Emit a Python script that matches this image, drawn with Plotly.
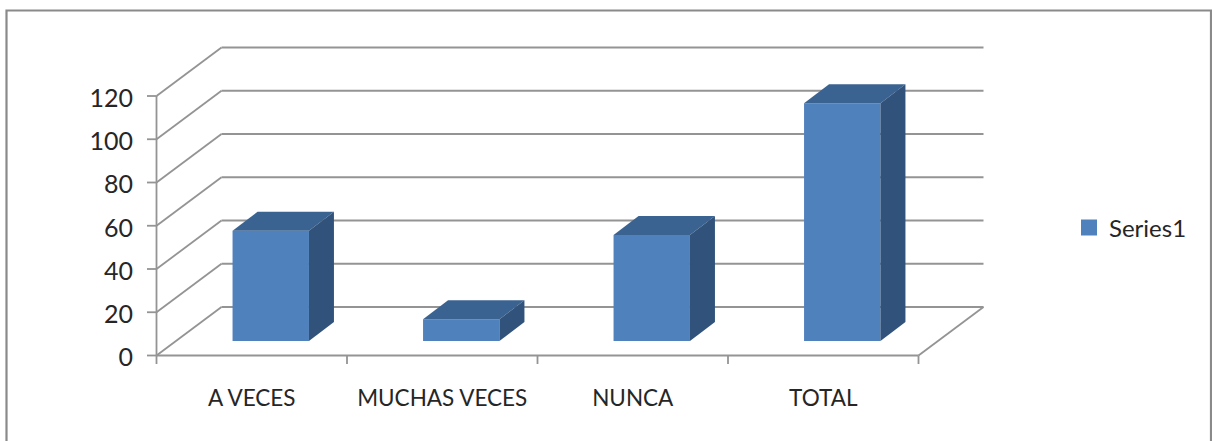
import plotly.graph_objects as go

categories = ["A VECES", "MUCHAS VECES", "NUNCA", "TOTAL"]
values = [51, 10, 49, 110]
y_ticks = [0, 20, 40, 60, 80, 100, 120]
series_name = "Series1"

FONT = "Lato"
TEXT = "#262626"
GRID = "#949494"
FRONT = "#4f81bd"
TOP = "#3b6391"
SIDE = "#31527b"

# pixel scale of the drawing, used to set ranges and the fake 3D depth
W, H = 1212, 441
PX_X = 190.5   # px per category
PX_Y = 2.1625  # px per value unit
AXIS_X, AXIS_Y = 156.5, 355.5  # where x=0.5 and y=0 land
L, R, T, B = 147, 986, 45, 364  # plot area in px

x_pos = list(range(1, len(categories) + 1))
x_edges = [p - 0.5 for p in x_pos] + [x_pos[-1] + 0.5]

wall_dx, wall_dy = 65 / PX_X, 48.5 / PX_Y
bar_dx, bar_dy = 25 / PX_X, 19 / PX_Y
bar_shift, bar_lift = 19 / PX_X, 14.5 / PX_Y
bar_w = 76.4 / PX_X
tick_x, tick_y = 9.5 / PX_X, 8.5 / PX_Y

x0 = x_edges[0]
x1 = x_edges[-1]


def seg(xa, ya, xb, yb):
    return dict(type="line", xref="x", yref="y", x0=xa, y0=ya, x1=xb, y1=yb,
                layer="below", line=dict(color=GRID, width=1.8))


shapes = []
for t in y_ticks:
    shapes.append(seg(x0 - tick_x, t, x0, t))
    shapes.append(seg(x0, t, x0 + wall_dx, t + wall_dy))
    shapes.append(seg(x0 + wall_dx, t + wall_dy, x1 + wall_dx, t + wall_dy))
shapes.append(seg(x0, 0, x0, y_ticks[-1]))
shapes.append(seg(x0, 0, x1, 0))
shapes.append(seg(x1, 0, x1 + wall_dx, wall_dy))
for e in x_edges:
    shapes.append(seg(e, 0, e, -tick_y))


def px_x(p):
    return (p - L) / (R - L)


def px_y(p):
    return (B - p) / (B - T)


# chart frame, the bottom edge is cut off by the page in the original
shapes.append(dict(type="rect", xref="paper", yref="paper",
                   x0=px_x(6.5), x1=px_x(1211), y0=px_y(10.5), y1=px_y(460),
                   layer="below", line=dict(color="#8a8a8a", width=2.2)))

fig = go.Figure()

fig.add_trace(go.Bar(x=[p + bar_shift for p in x_pos], y=values,
                     base=[bar_lift] * len(values), width=bar_w,
                     marker=dict(color=FRONT, line=dict(width=0)),
                     showlegend=False))

for p, v in zip(x_pos, values):
    left = p + bar_shift - bar_w / 2
    right = p + bar_shift + bar_w / 2
    top = v + bar_lift
    # top face
    fig.add_trace(go.Scatter(
        x=[left, right, right + bar_dx, left + bar_dx, left],
        y=[top, top, top + bar_dy, top + bar_dy, top],
        mode="lines", fill="toself", fillcolor=TOP, line=dict(width=0),
        showlegend=False, hoverinfo="skip"))
    # side face
    fig.add_trace(go.Scatter(
        x=[right, right + bar_dx, right + bar_dx, right, right],
        y=[bar_lift, bar_lift + bar_dy, top + bar_dy, top, bar_lift],
        mode="lines", fill="toself", fillcolor=SIDE, line=dict(width=0),
        showlegend=False, hoverinfo="skip"))

# legend entry only, a bar swatch can't be made big enough
fig.add_trace(go.Scatter(x=[None], y=[None], mode="markers", name=series_name,
                         marker=dict(symbol="square", size=16, color=FRONT)))

fig.update_layout(
    width=W, height=H, autosize=False,
    margin=dict(l=L, r=W - R, t=T, b=H - B, pad=0),
    paper_bgcolor="white", plot_bgcolor="rgba(0,0,0,0)",
    font=dict(family=FONT, size=23, color=TEXT),
    shapes=shapes,
    legend=dict(x=px_x(1069), y=px_y(228), xanchor="left", yanchor="middle",
                bgcolor="rgba(0,0,0,0)", borderwidth=0, itemwidth=30,
                font=dict(family=FONT, size=24, color=TEXT)),
    xaxis=dict(range=[x0 - (AXIS_X - L) / PX_X, x0 + (R - AXIS_X) / PX_X],
               tickmode="array", tickvals=x_pos, ticktext=categories,
               ticks="", showgrid=False, zeroline=False, showline=False,
               tickfont=dict(size=22.5), ticklabelstandoff=18),
    yaxis=dict(range=[-(B - AXIS_Y) / PX_Y, (AXIS_Y - T) / PX_Y],
               tickmode="array", tickvals=y_ticks,
               ticks="", showgrid=False, zeroline=False, showline=False,
               tickfont=dict(size=25), ticklabelstandoff=13, ticklabelshift=2),
)

# the reference has no page margin around the chart
fig.write_html("out.html", config=dict(displayModeBar=False),
               post_script="document.body.style.margin='0';")
